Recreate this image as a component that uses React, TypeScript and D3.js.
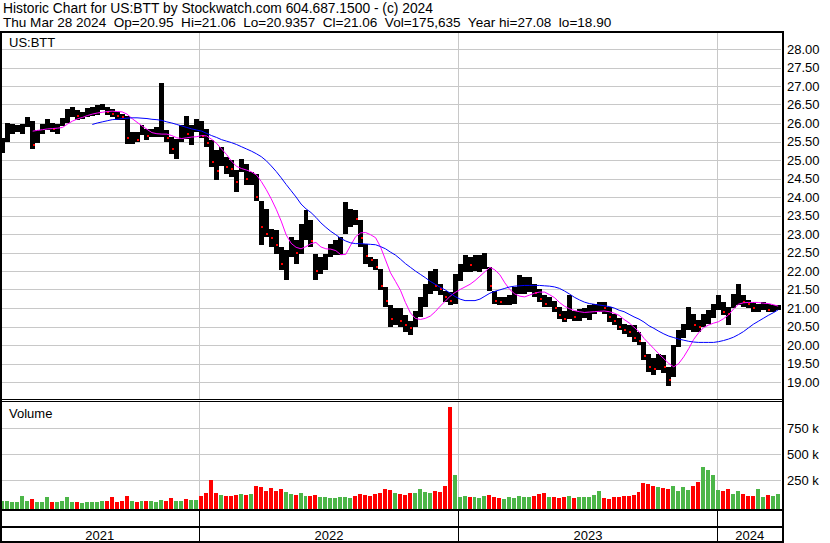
import React from 'react';
import * as d3 from 'd3';

const FONT = "'Liberation Sans', Arial, Helvetica, sans-serif";

// Weekly bars, first week starting Monday 2021-03-29
const firstWeek = new Date(2021, 2, 29);

const weekHigh = [
  25.6, 26.0, 25.98, 25.95, 25.98, 26.15, 26.05, 25.8, 25.98, 26.1,
  26.0, 25.98, 26.13, 26.38, 26.43, 26.35, 26.3, 26.4, 26.43, 26.48,
  26.52, 26.43, 26.38, 26.3, 26.25, 26.2, 25.76, 25.76, 25.94, 25.85,
  25.85, 25.9, 27.08, 25.8, 25.62, 25.58, 25.94, 26.2, 25.94, 26.1,
  26.05, 25.85, 25.53, 25.26, 25.35, 25.08, 24.99, 24.72, 25.04, 24.9,
  24.68, 24.63, 23.9, 23.68, 23.14, 23.1, 22.65, 22.56, 22.92, 22.83,
  23.28, 23.64, 23.37, 22.47, 22.38, 22.47, 22.74, 22.83, 22.92, 23.86,
  23.68, 23.64, 23.37, 22.74, 22.38, 22.33, 22.06, 21.57, 21.07, 21.0,
  21.0, 20.8, 20.66, 20.93, 21.3, 21.65, 22.0, 22.06, 21.65, 21.47,
  21.43, 21.92, 22.19, 22.42, 22.37, 22.42, 22.42, 22.5, 22.1, 21.47,
  21.3, 21.3, 21.34, 21.56, 21.88, 21.83, 21.83, 21.65, 21.52, 21.34,
  21.3, 21.2, 21.02, 20.93, 21.34, 20.93, 20.98, 21.0, 21.08, 21.12,
  21.17, 21.17, 21.03, 20.85, 20.72, 20.58, 20.54, 20.54, 20.36, 20.09,
  19.77, 19.64, 19.77, 19.72, 19.4, 20.0, 20.4, 20.58, 21.03, 20.85,
  20.67, 20.85, 20.94, 21.12, 21.35, 21.17, 21.03, 21.39, 21.66, 21.35,
  21.21, 21.17, 21.12, 21.17, 21.12, 21.08, 21.08,
];

const weekLow = [
  25.2, 25.5, 25.7, 25.75, 25.7, 25.9, 25.29, 25.45, 25.7, 25.8,
  25.75, 25.7, 25.93, 26.0, 26.16, 26.07, 26.12, 26.16, 26.2, 26.22,
  26.35, 26.22, 26.16, 26.07, 26.07, 25.44, 25.44, 25.49, 25.67, 25.53,
  25.62, 25.62, 25.62, 25.49, 25.17, 25.04, 25.49, 25.58, 25.4, 25.76,
  25.6, 25.35, 24.8, 24.45, 24.85, 24.63, 24.54, 24.13, 24.68, 24.32,
  24.32, 23.9, 22.7, 22.92, 22.65, 22.47, 22.02, 21.75, 22.38, 22.2,
  22.47, 22.83, 22.65, 21.75, 21.93, 22.02, 22.38, 22.42, 22.42, 23.0,
  23.19, 23.23, 22.65, 22.2, 22.1, 22.02, 21.48, 21.03, 20.49, 20.55,
  20.5, 20.35, 20.26, 20.48, 20.75, 21.02, 21.38, 21.47, 21.34, 21.16,
  21.07, 21.11, 21.74, 21.97, 21.97, 22.01, 21.97, 22.06, 21.47, 21.11,
  21.07, 21.07, 21.07, 21.11, 21.38, 21.38, 21.43, 21.29, 21.16, 21.02,
  21.02, 20.89, 20.7, 20.62, 20.7, 20.66, 20.66, 20.72, 20.67, 20.85,
  20.9, 20.85, 20.63, 20.54, 20.4, 20.31, 20.22, 20.09, 20.0, 19.59,
  19.27, 19.18, 19.32, 19.23, 18.9, 19.14, 19.95, 20.18, 20.4, 20.36,
  20.36, 20.5, 20.58, 20.72, 20.94, 20.81, 20.54, 20.99, 21.08, 21.03,
  20.99, 20.9, 20.9, 20.94, 20.9, 20.9, 20.94,
];

const weekClose = [
  25.5, 25.8, 25.85, 25.85, 25.9, 26.05, 25.4, 25.7, 25.8, 26.0,
  25.85, 25.9, 26.05, 26.3, 26.3, 26.2, 26.25, 26.3, 26.35, 26.4,
  26.45, 26.3, 26.25, 26.2, 26.15, 25.6, 25.6, 25.55, 25.8, 25.65,
  25.75, 25.75, 25.75, 25.6, 25.3, 25.35, 25.8, 25.7, 25.85, 26.0,
  25.65, 25.45, 24.95, 24.7, 25.1, 24.8, 24.75, 24.4, 24.9, 24.5,
  24.5, 24.0, 23.2, 23.0, 22.9, 22.7, 22.2, 22.4, 22.6, 22.5,
  23.0, 23.3, 22.8, 22.0, 22.1, 22.3, 22.6, 22.6, 22.7, 23.3,
  23.5, 23.4, 22.9, 22.4, 22.3, 22.1, 21.6, 21.2, 20.7, 20.75,
  20.65, 20.55, 20.45, 20.8, 21.1, 21.4, 21.7, 21.6, 21.5, 21.3,
  21.2, 21.8, 22.0, 22.2, 22.15, 22.2, 22.2, 22.3, 21.6, 21.2,
  21.15, 21.2, 21.25, 21.3, 21.55, 21.6, 21.6, 21.4, 21.25, 21.1,
  21.1, 21.0, 20.8, 20.7, 20.85, 20.75, 20.8, 20.9, 20.95, 21.0,
  21.05, 21.0, 20.75, 20.65, 20.5, 20.4, 20.35, 20.2, 20.1, 19.7,
  19.4, 19.35, 19.5, 19.4, 19.05, 19.8, 20.2, 20.35, 20.8, 20.55,
  20.5, 20.7, 20.8, 20.95, 21.2, 20.9, 20.85, 21.3, 21.35, 21.15,
  21.1, 21.0, 21.05, 21.05, 20.95, 21.0, 21.06,
];

// Short moving average (magenta)
const maFast = [
  null, null, null, null, null, null, 25.78, 25.8, 25.82, 25.84,
  25.85, 25.86, 25.88, 25.97, 26.05, 26.11, 26.15, 26.2, 26.24, 26.27,
  26.29, 26.31, 26.32, 26.31, 26.3, 26.24, 26.12, 26.02, 25.92, 25.83,
  25.74, 25.71, 25.7, 25.7, 25.66, 25.6, 25.58, 25.6, 25.62, 25.63,
  25.66, 25.65, 25.56, 25.45, 25.3, 25.15, 24.97, 24.83, 24.77, 24.73,
  24.68, 24.6, 24.42, 24.2, 23.95, 23.67, 23.35, 22.98, 22.75, 22.64,
  22.6, 22.66, 22.74, 22.77, 22.65, 22.6, 22.59, 22.55, 22.44, 22.45,
  22.7, 22.93, 23.03, 23.04, 22.98, 22.9, 22.65, 22.3, 21.95, 21.72,
  21.48, 21.15, 20.87, 20.72, 20.69, 20.72, 20.78, 20.9, 21.05, 21.18,
  21.32, 21.42, 21.5, 21.57, 21.64, 21.74, 21.86, 21.98, 22.1, 22.03,
  21.9, 21.68, 21.5, 21.38, 21.32, 21.3, 21.35, 21.4, 21.43, 21.43,
  21.36, 21.28, 21.15, 21.05, 20.98, 20.93, 20.9, 20.88, 20.89, 20.9,
  20.91, 20.92, 20.9, 20.86, 20.8, 20.69, 20.6, 20.48, 20.36, 20.18,
  20.04, 19.9, 19.76, 19.63, 19.5, 19.41, 19.5, 19.68, 19.9, 20.15,
  20.33, 20.47, 20.54, 20.59, 20.63, 20.71, 20.81, 20.97, 21.1, 21.14,
  21.15, 21.15, 21.15, 21.13, 21.12, 21.09, 21.05,
];

// Long moving average (blue)
const maSlow = [
  null, null, null, null, null, null, null, null, null, null,
  null, null, null, null, null, null, null, null, 25.96, 26.0,
  26.03, 26.06, 26.09, 26.1, 26.12, 26.13, 26.14, 26.14, 26.13, 26.12,
  26.1, 26.09, 26.07, 26.03, 26.0, 25.96, 25.92, 25.88, 25.84, 25.81,
  25.78, 25.72, 25.66, 25.61, 25.55, 25.51, 25.47, 25.42, 25.36, 25.3,
  25.24, 25.17, 25.09, 24.98, 24.84, 24.69, 24.52, 24.34, 24.17, 24.0,
  23.81, 23.68, 23.58, 23.45, 23.3, 23.18, 23.07, 22.98, 22.88, 22.81,
  22.76, 22.74, 22.74, 22.73, 22.72, 22.71, 22.66, 22.6, 22.51, 22.43,
  22.32, 22.2, 22.1, 22.0, 21.91, 21.82, 21.72, 21.64, 21.56, 21.49,
  21.4, 21.31, 21.24, 21.2, 21.2, 21.2, 21.24, 21.32, 21.4, 21.45,
  21.49, 21.53, 21.57, 21.59, 21.6, 21.61, 21.61, 21.61, 21.61, 21.6,
  21.59, 21.57, 21.53, 21.46, 21.38, 21.29, 21.22, 21.16, 21.12, 21.1,
  21.08, 21.06, 21.04, 21.0, 20.94, 20.9, 20.83, 20.76, 20.7, 20.62,
  20.52, 20.45, 20.37, 20.3, 20.24, 20.2, 20.16, 20.13, 20.1, 20.08,
  20.07, 20.07, 20.07, 20.07, 20.09, 20.12, 20.16, 20.21, 20.28, 20.36,
  20.46, 20.56, 20.64, 20.72, 20.8, 20.87, 20.95,
];

// Typical daily volume for each week, in thousands of shares
const weekVolume = [
  50, 55, 45, 40, 100, 50, 75, 45, 40, 90,
  45, 40, 50, 85, 45, 40, 35, 40, 45, 40,
  50, 55, 90, 45, 50, 95, 55, 45, 50, 55,
  50, 45, 60, 55, 80, 50, 55, 70, 65, 60,
  100, 130, 250, 130, 110, 100, 95, 110, 120, 105,
  120, 200, 190, 150, 180, 150, 170, 140, 120, 110,
  130, 100, 95, 110, 90, 85, 80, 80, 90, 85,
  80, 95, 120, 110, 100, 120, 130, 170, 160, 130,
  120, 110, 130, 130, 170, 140, 130, 150, 140, 200,
  958, 300, 90, 95, 90, 85, 80, 100, 110, 85,
  80, 75, 85, 80, 95, 90, 85, 95, 120, 130,
  90, 85, 80, 85, 95, 80, 90, 85, 90, 110,
  150, 80, 75, 85, 90, 95, 100, 110, 140, 220,
  210, 200, 190, 180, 170, 200, 150, 190, 160, 200,
  230, 380, 350, 300, 160, 150, 170, 120, 150, 120,
  100, 95, 170, 90, 110, 95, 120,
];

const priceTicks = [28, 27.5, 27, 26.5, 26, 25.5, 25, 24.5, 24, 23.5, 23, 22.5, 22, 21.5, 21, 20.5, 20, 19.5, 19];
const volumeTicks = [250, 500, 750];
const yearLabels = ['2021', '2022', '2023', '2024'];

const headerLine1 = 'Historic Chart for US:BTT by Stockwatch.com 604.687.1500 - (c) 2024';
const headerLine2 = 'Thu Mar 28 2024  Op=20.95  Hi=21.06  Lo=20.9357  Cl=21.06  Vol=175,635  Year hi=27.08  lo=18.90';

const RED = '#ff0000';
const GREEN = '#4cb648';
const GRID = '#c8c8c8';

export default function App() {
  const plotLeft = 2;
  const plotRight = 781;
  const priceTop = 33;
  const priceBottom = 399;
  const volTop = 402;
  const volBottom = 509;

  const x = d3
    .scaleTime()
    .domain([new Date(2021, 2, 27), new Date(2024, 2, 31)])
    .range([0, 781]);
  const yP = d3.scaleLinear().domain([19, 28]).range([382, 49]);
  const yV = d3.scaleLinear().domain([0, 750]).range([506.3, 428.3]);

  const cx = weekHigh.map((_, i) => x(d3.timeDay.offset(firstWeek, 7 * i + 2)));
  // week bar edges: halfway between neighbouring week centres
  const step = cx.length > 1 ? cx[1] - cx[0] : 5;
  const edgeL = cx.map((c) => Math.max(plotLeft, Math.round(c - step / 2)));
  const edgeR = cx.map((c) => Math.min(plotRight, Math.round(c + step / 2)));

  const lineGen = d3
    .line<number | null>()
    .defined((d) => d != null)
    .x((_, i) => cx[i])
    .y((d) => yP(d as number));

  const yearBounds = [2022, 2023, 2024].map((yr) => Math.round(x(new Date(yr, 0, 1))) + 0.5);
  const segs = [0, ...yearBounds, 782];

  return (
    <svg
      width={830}
      height={543}
      style={{ position: 'absolute', left: 0, top: 0, background: '#fff' }}
      fontFamily={FONT}
    >
      <rect x={0} y={0} width={830} height={543} fill="#fff" />

      {/* header */}
      <text x={3} y={13} fontSize={13.8} fill="#000" xmlSpace="preserve" style={{ whiteSpace: 'pre' }}>
        {headerLine1}
      </text>
      <text x={3} y={27} fontSize={13.55} fill="#000" xmlSpace="preserve" style={{ whiteSpace: 'pre' }}>
        {headerLine2}
      </text>

      {/* grids */}
      <g shapeRendering="crispEdges">
        {priceTicks.map((t) => (
          <line key={t} x1={plotLeft} x2={plotRight} y1={Math.round(yP(t)) + 0.5} y2={Math.round(yP(t)) + 0.5} stroke={GRID} />
        ))}
        {yearBounds.map((b) => (
          <line key={'pv' + b} x1={b} x2={b} y1={priceTop} y2={priceBottom} stroke={GRID} />
        ))}
        {volumeTicks.map((t) => (
          <line key={'v' + t} x1={plotLeft} x2={plotRight} y1={Math.round(yV(t)) + 0.5} y2={Math.round(yV(t)) + 0.5} stroke={GRID} />
        ))}
        {yearBounds.map((b) => (
          <line key={'vv' + b} x1={b} x2={b} y1={volTop} y2={volBottom} stroke={GRID} />
        ))}
      </g>

      {/* price bars: weekly high-low range */}
      <g shapeRendering="crispEdges">
        {weekHigh.map((h, i) => (
          <rect
            key={'b' + i}
            x={edgeL[i]}
            y={yP(h)}
            width={Math.max(1, edgeR[i] - edgeL[i])}
            height={Math.max(1, yP(weekLow[i]) - yP(h))}
            fill="#000"
          />
        ))}
        {weekClose.map((c, i) =>
          i > 0 && c < weekClose[i - 1] ? (
            <rect key={'r' + i} x={Math.round(cx[i])} y={Math.round(yP(c)) - 1} width={2} height={2} fill={RED} />
          ) : null
        )}
      </g>

      {/* moving averages */}
      <path d={lineGen(maFast) || ''} fill="none" stroke="#ff00ff" strokeWidth={1} />
      <path d={lineGen(maSlow) || ''} fill="none" stroke="#0000ff" strokeWidth={1} />

      {/* volume bars */}
      <g shapeRendering="crispEdges">
        {weekVolume.map((v, i) => {
          const up = i === 0 || weekClose[i] >= weekClose[i - 1];
          const top = Math.max(volTop, yV(v));
          return (
            <rect
              key={'vol' + i}
              x={edgeL[i]}
              y={top}
              width={Math.max(1, edgeR[i] - edgeL[i] - 1)}
              height={volBottom - top}
              fill={up ? GREEN : RED}
            />
          );
        })}
      </g>

      {/* panel labels */}
      <text x={9} y={46.5} fontSize={13} fill="#000">US:BTT</text>
      <text x={9} y={418} fontSize={13} fill="#000">Volume</text>

      {/* right axis labels */}
      {priceTicks.map((t) => (
        <text key={'pl' + t} x={787} y={yP(t) + 4.5} fontSize={13} fill="#000">
          {d3.format('.2f')(t)}
        </text>
      ))}
      {volumeTicks.map((t) => (
        <text key={'vl' + t} x={787} y={yV(t) + 4.5} fontSize={13} fill="#000">
          {`${t} k`}
        </text>
      ))}

      {/* frame */}
      <g shapeRendering="crispEdges" fill="#000">
        <rect x={0} y={31} width={784} height={2} />
        <rect x={0} y={31} width={2} height={512} />
        <rect x={782} y={31} width={2} height={512} />
        <rect x={0} y={399} width={784} height={1} />
        <rect x={0} y={401} width={784} height={1} />
        <rect x={0} y={509} width={784} height={2} />
        <rect x={0} y={526} width={784} height={2} />
        <rect x={0} y={541} width={784} height={2} />
        {yearBounds.map((b) => (
          <rect key={'yb' + b} x={b - 0.5} y={511} width={1} height={30} />
        ))}
      </g>

      {/* year labels */}
      {yearLabels.map((label, i) => (
        <text key={label} x={(segs[i] + segs[i + 1]) / 2} y={539.5} fontSize={13} textAnchor="middle" fill="#000">
          {label}
        </text>
      ))}
    </svg>
  );
}
